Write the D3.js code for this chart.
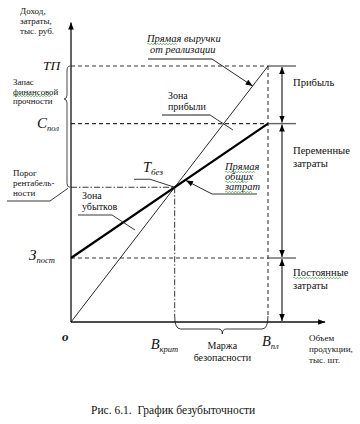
<!DOCTYPE html>
<html><head><meta charset="utf-8">
<script src="https://cdn.jsdelivr.net/npm/d3@7"></script>
<style>
html,body{margin:0;padding:0;background:#fff;}
svg{display:block;}
</style></head>
<body>
<svg id="c" width="360" height="424"></svg>
<script>
// ---- data ----
const volume = [0, 100];            // 0 and planned volume B_pl
const revenue = [0, 1000];          // revenue line (ТП at B_pl)
const totalCost = [250, 775];       // total cost line (З_пост at 0, С_пол at B_pl)
const fixedCost = 250;              // постоянные затраты
const axisMax = {x: 129, y: 1170};
const yTickLabels = [{main:"ТП", sub:""}, {main:"С", sub:"пол"}, {main:"З", sub:"пост"}];
const xTickLabels = [{main:"В", sub:"крит"}, {main:"В", sub:"пл"}];
const rightLabels = [["Прибыль"], ["Переменные","затраты"], ["Постоянные","затраты"]];

const FONT = "'Liberation Serif', 'Times New Roman', 'DejaVu Serif', serif";
const svg = d3.select("#c").attr("font-family", FONT);
const x = d3.scaleLinear().domain([0, 100]).range([71, 268]);
const y = d3.scaleLinear().domain([0, 1000]).range([322, 66]);

// break-even point from line intersection
const p = (revenue[1]-revenue[0])/(volume[1]-volume[0]);
const v = (totalCost[1]-totalCost[0])/(volume[1]-volume[0]);
const beX = (totalCost[0]-revenue[0])/(p - v);
const beY = revenue[0] + p*beX;

const X0 = x(0), Y0 = y(0);
const XB = x(volume[1]), XK = x(beX);
const YT = y(revenue[1]), YC = y(totalCost[1]), YF = y(fixedCost), YK = y(beY);

const defs = svg.append("defs");
defs.append("marker").attr("id","ah").attr("viewBox","0 0 10 10").attr("refX",10).attr("refY",5)
  .attr("markerWidth",7).attr("markerHeight",7).attr("markerUnits","userSpaceOnUse").attr("orient","auto-start-reverse")
  .append("path").attr("d","M0,1 L10,5 L0,9 Z").attr("fill","#000");
defs.append("marker").attr("id","ahS").attr("viewBox","0 0 10 10").attr("refX",10).attr("refY",5)
  .attr("markerWidth",9).attr("markerHeight",7).attr("markerUnits","userSpaceOnUse").attr("orient","auto")
  .append("path").attr("d","M0,1 L10,5 L0,9 Z").attr("fill","#000");

const g = svg.append("g");
function ln(x1,y1,x2,y2,opt={}){
  const l = g.append("line").attr("x1",x1).attr("y1",y1).attr("x2",x2).attr("y2",y2)
    .attr("stroke",opt.c||"#111").attr("stroke-width",opt.w||1);
  if(opt.d) l.attr("stroke-dasharray",opt.d);
  if(opt.m) l.attr("marker-end","url(#"+opt.m+")");
  if(opt.ms) l.attr("marker-start","url(#"+opt.ms+")");
  return l;
}
function txt(s,xx,yy,opt={}){
  const t = g.append("text").attr("x",xx).attr("y",yy).attr("font-size",opt.s||9.5)
    .attr("font-family",FONT).attr("fill","#111").style("white-space","pre")
    .attr("text-anchor",opt.a||"start").text(s);
  if(opt.i) t.attr("font-style","italic");
  if(opt.b) t.attr("font-weight","bold");
  if(opt.ls) t.attr("letter-spacing",opt.ls);
  return t;
}
function sub(main,s,xx,yy,size,subSize){
  const t = g.append("text").attr("x",xx).attr("y",yy).attr("font-style","italic")
    .attr("font-family",FONT).attr("fill","#111").attr("font-size",size);
  t.append("tspan").text(main);
  t.append("tspan").attr("font-size",subSize).attr("dy",3).text(s);
  return t;
}
function squiggle(x1,x2,yy){
  let d="M"+x1+","+yy; let up=true;
  for(let xx=x1+1.5; xx<=x2; xx+=1.5){ d+=" L"+xx+","+(yy+(up?-0.8:0.8)); up=!up; }
  g.append("path").attr("d",d).attr("fill","none").attr("stroke","#3a9a3a").attr("stroke-width",0.7);
}

// ---- dashed guide lines ----
const dash = "4,3";
[YT, YC, YF].forEach(yy => {
  ln(X0, yy, XB, yy, {d:dash, c:"#333", w:1.1});
  ln(XB, yy, XB+28, yy, {c:"#666", w:1.4});
});
// vertical dashed at B_pl
ln(XB, YT, XB, Y0-6, {d:dash, c:"#222", w:1});
// dash-dot lines to break-even
ln(X0, YK, XK, YK, {d:"6,2,1.5,2", c:"#222", w:0.9});
ln(XK, YK, XK, Y0-6, {d:"6,2,1.5,2", c:"#222", w:0.9});

// bottom brace (Маржа безопасности)
const mid = (XK+XB)/2 + 1;
g.append("path").attr("d",
  `M${XK},${Y0-6} Q${XK},${Y0+7} ${XK+6},${Y0+7} L${mid-4},${Y0+7} Q${mid},${Y0+7} ${mid},${Y0+12} Q${mid},${Y0+7} ${mid+4},${Y0+7} L${XB-6},${Y0+7} Q${XB},${Y0+7} ${XB},${Y0-6}`)
  .attr("fill","none").attr("stroke","#222").attr("stroke-width",0.9);

// left brace (Запас финансовой прочности)
const bx = X0-4, tipY = 99;
g.append("path").attr("d",
  `M${X0-1},${YT} Q${bx},${YT} ${bx},${YT+5} L${bx},${tipY-4} Q${bx},${tipY} ${bx-3},${tipY} Q${bx},${tipY} ${bx},${tipY+4} L${bx},${YK-4} Q${bx},${YK} ${X0-1},${YK}`)
  .attr("fill","none").attr("stroke","#333").attr("stroke-width",0.9);

// ---- axes ----
ln(X0, Y0, X0, y(axisMax.y), {w:1.3, m:"ahS"});
ln(X0, Y0, x(axisMax.x), Y0, {w:1.3, m:"ahS"});

// ---- revenue & cost lines ----
const line = d3.line().x(d=>x(d[0])).y(d=>y(d[1]));
g.append("path").attr("d", line(volume.map((vv,i)=>[vv,revenue[i]])))
  .attr("stroke","#111").attr("stroke-width",0.9).attr("fill","none");
g.append("path").attr("d", line(volume.map((vv,i)=>[vv,totalCost[i]])))
  .attr("stroke","#000").attr("stroke-width",2.2).attr("fill","none");

// ---- right double arrows ----
const XA = XB+14;
[[YT,YC],[YC,YF],[YF,Y0]].forEach(([a,b])=>{
  ln(XA, a+1, XA, b-1, {w:1.1, m:"ah", ms:"ah"});
});
// right labels
const rl = [[YT+20],[YC+30,YC+43],[YF+18,YF+31]];
rightLabels.forEach((arr,i)=>arr.forEach((s,j)=>txt(s, XB+25, rl[i][j], {s:10.6})));
squiggle(XB+25, XB+73, YF+20);

// ---- y labels ----
sub(yTickLabels[0].main, "", 43, YT+4, 13.5, 9);
sub(yTickLabels[1].main, yTickLabels[1].sub, 37, YC+4, 15, 8.5);
sub(yTickLabels[2].main, yTickLabels[2].sub, 29, YF+2, 15, 8.5);
txt("о", X0-9, Y0+19, {s:13, i:true, b:true});

// x labels
sub(xTickLabels[0].main, xTickLabels[0].sub, XK-24, Y0+27, 14.5, 8.5);
sub(xTickLabels[1].main, xTickLabels[1].sub, XB-6, Y0+24, 14.5, 8.5);

// break-even label
sub("Т","без", 143, YK-15, 14.5, 9);
g.append("path").attr("d",`M134,${YK-8} L150,${YK-8} L${XK},${YK}`).attr("fill","none").attr("stroke","#222").attr("stroke-width",0.9);

// axis titles
["Доход,","затраты,","тыс. руб."].forEach((s,i)=>txt(s,20,14+i*10,{s:9}));
["Объем","продукции,","тыс. шт."].forEach((s,i)=>txt(s,309,341+i*11,{s:9}));

// Запас финансовой прочности
["Запас","финансовой","прочности"].forEach((s,i)=>txt(s,13,85+i*9.7,{s:8.8}));
squiggle(13,53,96);

// Порог рентабельности
["Порог","рентабель-","ности"].forEach((s,i)=>txt(s,13,176+i*10,{s:9}));
g.append("path").attr("d",`M7,201 L50,201 L${X0-3},${YK+1}`).attr("fill","none").attr("stroke","#222").attr("stroke-width",0.9);

// Зона убытков
["Зона","убытков"].forEach((s,i)=>txt(s,82,199+i*11,{s:10}));
g.append("path").attr("d",`M78,215 L112,215 L135,230`).attr("fill","none").attr("stroke","#222").attr("stroke-width",0.9);

// Зона прибыли
["Зона","прибыли"].forEach((s,i)=>txt(s,168,99+i*11,{s:10}));
g.append("path").attr("d",`M162,115 L210,115`).attr("fill","none").attr("stroke","#666").attr("stroke-width",1.5);
ln(210,115,233,130,{c:"#222",w:0.9});

// Прямая выручки от реализации
txt("Прямая выручки",147,42,{s:10.5,i:true});
txt("от реализации",150,53,{s:10.5,i:true});
squiggle(147,178,44);
ln(148,59,212,59,{c:"#666",w:1.5});
const arY = 86, arX = x((y.invert(arY))/p);
ln(212,59,arX,arY,{w:0.9,m:"ahS"});

// Прямая общих затрат
["Прямая","общих","затрат"].forEach((s,i)=>txt(s,225,170+i*10,{s:10.5,i:true}));
squiggle(225,256,172); squiggle(225,248,182); squiggle(225,252,192);
const acX = 186, acY = y(totalCost[0] + v*x.invert(acX));
g.append("path").attr("d",`M257,194 L212,194`).attr("fill","none").attr("stroke","#222").attr("stroke-width",0.9);
ln(212,194,acX,acY+1,{w:0.9,m:"ahS"});

// Маржа безопасности
txt("Маржа", mid, 349, {s:10, a:"middle"});
txt("безопасности", mid, 361, {s:10, a:"middle"});

// caption
txt("Рис. 6.1.  График безубыточности", 91, 414, {s:11.5});
</script>
</body></html>
